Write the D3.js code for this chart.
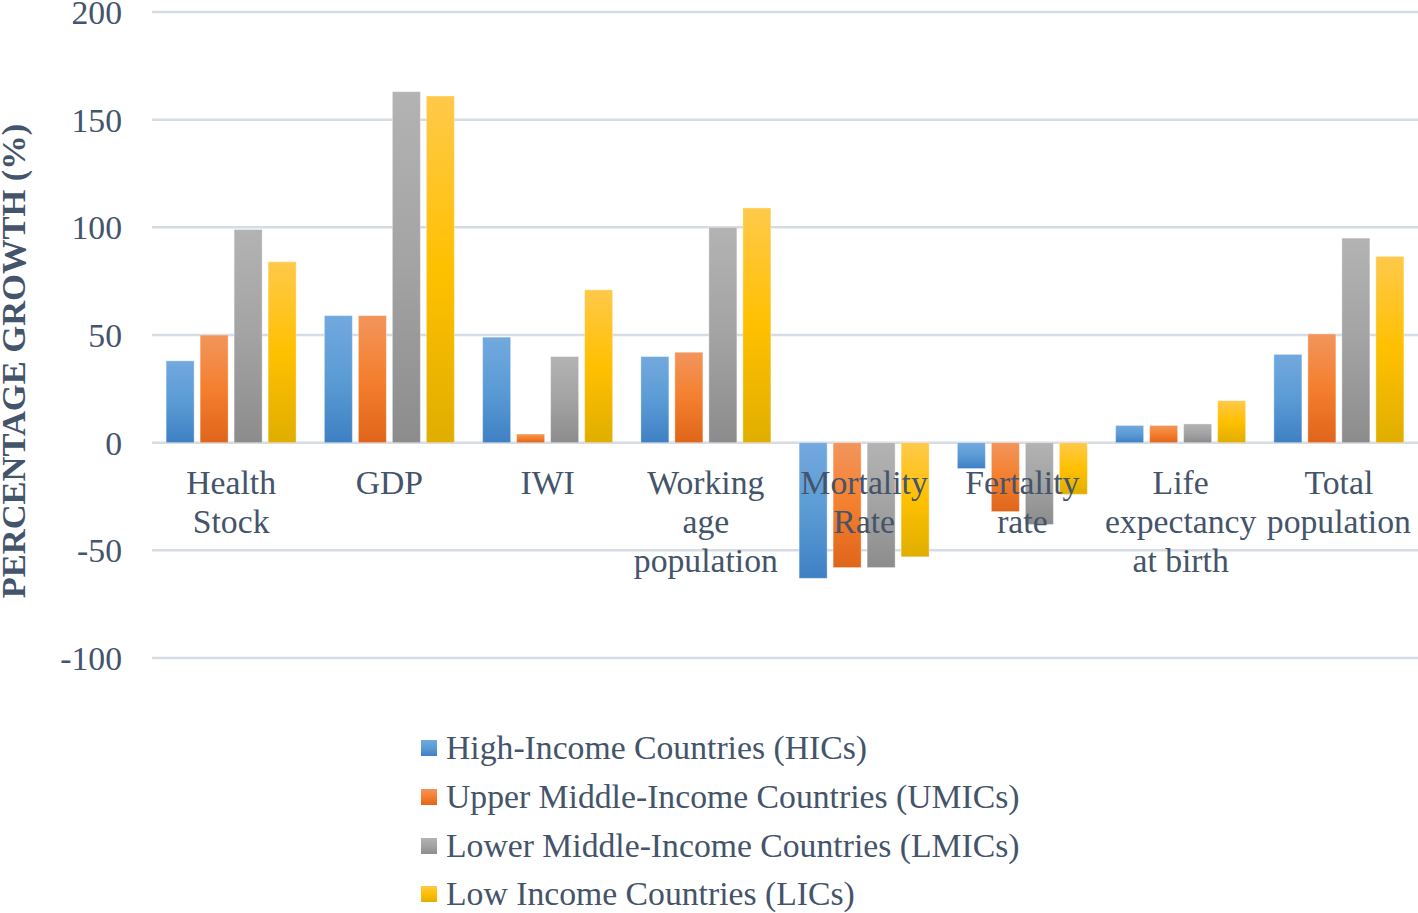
<!DOCTYPE html>
<html>
<head>
<meta charset="utf-8">
<script src="https://cdn.jsdelivr.net/npm/d3@7"></script>
<style>
  html, body { margin: 0; padding: 0; background: #ffffff; }
  svg { display: block; }
  text { font-family: "Liberation Serif", "Times New Roman", serif; fill: #44546a; }
</style>
</head>
<body>
<svg id="chart" width="1418" height="913"></svg>
<script>
// ---- data ----
const categories = [
  ["Health", "Stock"],
  ["GDP"],
  ["IWI"],
  ["Working", "age", "population"],
  ["Mortality", "Rate"],
  ["Fertality", "rate"],
  ["Life", "expectancy", "at birth"],
  ["Total", "population"]
];
const seriesNames = [
  "High-Income Countries (HICs)",
  "Upper Middle-Income Countries (UMICs)",
  "Lower Middle-Income Countries (LMICs)",
  "Low Income Countries (LICs)"
];
const hics  = [38, 59, 49, 40, -63, -12, 8, 41];
const umics = [50, 59, 4, 42, -58, -32, 8, 50.5];
const lmics = [99, 163, 40, 100, -58, -38, 8.7, 95];
const lics  = [84, 161, 71, 109, -53, -24, 19.5, 86.5];
const seriesValues = [hics, umics, lmics, lics];
const yTicks = [-100, -50, 0, 50, 100, 150, 200];
const yTitle = "PERCENTAGE GROWTH (%)";
const gradStops = [
  ["#72a9de", "#5b9bd5", "#3f80c4"],
  ["#f2955c", "#f47f2e", "#df651a"],
  ["#b3b3b3", "#a3a3a3", "#8c8c8c"],
  ["#ffc94a", "#ffc000", "#e0ae00"]
];

// ---- layout ----
const svg = d3.select("#chart");
const plotL = 152, plotR = 1418, plotT = 12, plotB = 658;
const fs = 33.7;

const y = d3.scaleLinear().domain([-100, 200]).range([plotB, plotT]);
const x0 = d3.scaleBand().domain(d3.range(categories.length)).range([plotL, plotR]).padding(0);
const x1 = d3.scaleBand().domain(d3.range(seriesNames.length)).range([-65, 65]).paddingInner(6 / 34).paddingOuter(0);

// gradients
const defs = svg.append("defs");
gradStops.forEach((g, i) => {
  const lg = defs.append("linearGradient").attr("id", "g" + i)
    .attr("x1", 0).attr("y1", 0).attr("x2", 0).attr("y2", 1);
  lg.append("stop").attr("offset", "0%").attr("stop-color", g[0]);
  lg.append("stop").attr("offset", "50%").attr("stop-color", g[1]);
  lg.append("stop").attr("offset", "100%").attr("stop-color", g[2]);
});

// gridlines
svg.append("g").selectAll("line").data(yTicks).join("line")
  .attr("x1", plotL).attr("x2", plotR)
  .attr("y1", d => y(d)).attr("y2", d => y(d))
  .attr("stroke", "#d6dce4").attr("stroke-width", 2.5);

// y tick labels
svg.append("g").selectAll("text").data(yTicks).join("text")
  .attr("x", 122).attr("y", d => y(d))
  .attr("dy", "0.36em")
  .attr("text-anchor", "end")
  .attr("font-size", fs)
  .text(d => d);

// y title
svg.append("text")
  .attr("transform", `translate(25, 361) rotate(-90)`)
  .attr("text-anchor", "middle")
  .attr("font-size", 34.5)
  .attr("font-weight", "bold")
  .text(yTitle);

// bars
const groups = svg.append("g").selectAll("g").data(categories).join("g")
  .attr("transform", (d, i) => `translate(${x0(i) + x0.bandwidth() / 2},0)`);
groups.selectAll("rect")
  .data((d, ci) => seriesValues.map((s, si) => ({ si, v: s[ci] })))
  .join("rect")
  .attr("x", d => x1(d.si))
  .attr("width", x1.bandwidth())
  .attr("y", d => y(Math.max(0, d.v)))
  .attr("height", d => Math.abs(y(d.v) - y(0)))
  .attr("fill", d => `url(#g${d.si})`)
  .attr("stroke", "rgba(255,255,255,0.35)")
  .attr("stroke-width", 1);

// category labels
const lab = svg.append("g").selectAll("text").data(categories).join("text")
  .attr("x", (d, i) => x0(i) + x0.bandwidth() / 2)
  .attr("y", 494)
  .attr("text-anchor", "middle")
  .attr("font-size", fs);
lab.selectAll("tspan").data(d => d).join("tspan")
  .attr("x", function () { return d3.select(this.parentNode).attr("x"); })
  .attr("dy", (d, i) => i === 0 ? 0 : 39)
  .text(d => d);

// legend
const legY = [748, 797, 846, 894];
const leg = svg.append("g").selectAll("g").data(seriesNames).join("g")
  .attr("transform", (d, i) => `translate(421, ${legY[i]})`);
leg.append("rect")
  .attr("x", 0).attr("y", -8).attr("width", 16).attr("height", 16)
  .attr("fill", (d, i) => `url(#g${i})`);
leg.append("text")
  .attr("x", 25).attr("y", 0).attr("dy", "0.34em")
  .attr("font-size", fs)
  .text(d => d);
</script>
</body>
</html>
